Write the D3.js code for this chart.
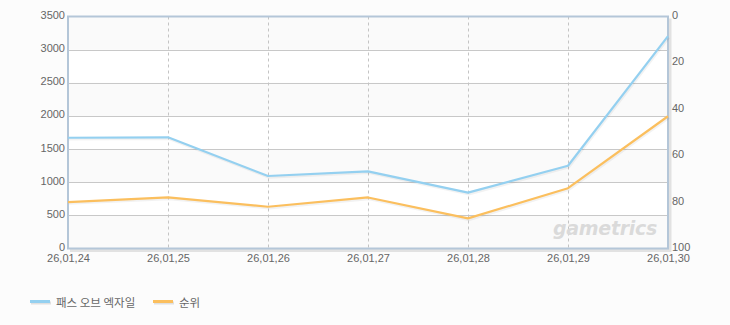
<!DOCTYPE html>
<html>
<head>
<meta charset="utf-8">
<script src="https://cdn.jsdelivr.net/npm/d3@7"></script>
<style>
  html, body { margin: 0; padding: 0; background: #fcfcfc; }
  svg { display: block; }
  .tick text { font-family: "Liberation Sans", Arial, sans-serif; font-size: 11px; fill: #666; }
</style>
</head>
<body>
<svg id="chart" width="730" height="325"></svg>
<script>
/* ---------- data ---------- */
const DATES   = ['26,01,24', '26,01,25', '26,01,26', '26,01,27', '26,01,28', '26,01,29', '26,01,30'];
const PLAYERS = [1671, 1677, 1094, 1164, 842, 1249, 3205];   // 패스 오브 엑자일 (left axis)
const RANKS   = [80, 78, 82, 78, 87, 74, 43];                 // 순위 (right axis, reversed)
const LEFT_TICKS  = [0, 500, 1000, 1500, 2000, 2500, 3000, 3500];
const RIGHT_TICKS = [0, 20, 40, 60, 80, 100];
const SERIES = [
  { name: '패스 오브 엑자일', color: '#94d0f0' },
  { name: '순위',             color: '#fbbf5e' },
];

/* ---------- layout ---------- */
const M = { left: 68, right: 668, top: 16.5, bottom: 248.5 };
const svg = d3.select('#chart');

const x  = d3.scalePoint().domain(DATES).range([M.left, M.right]);
const yL = d3.scaleLinear().domain([0, 3500]).range([M.bottom, M.top]);
const yR = d3.scaleLinear().domain([0, 100]).range([M.top, M.bottom]);

// alternating bands
d3.pairs(LEFT_TICKS).forEach(([a, b], i) => {
  svg.append('rect')
    .attr('x', M.left).attr('y', yL(b))
    .attr('width', M.right - M.left).attr('height', yL(a) - yL(b))
    .attr('fill', i % 2 === 0 ? '#fafafa' : '#ffffff');
});

// horizontal grid
svg.append('g').selectAll('line').data(LEFT_TICKS.slice(1, -1)).join('line')
  .attr('x1', M.left).attr('x2', M.right)
  .attr('y1', d => Math.round(yL(d)) + 0.5).attr('y2', d => Math.round(yL(d)) + 0.5)
  .attr('stroke', '#c8c8c8').attr('stroke-width', 1);

// vertical dashed grid
svg.append('g').selectAll('line').data(DATES.slice(1, -1)).join('line')
  .attr('x1', d => Math.round(x(d)) + 0.5).attr('x2', d => Math.round(x(d)) + 0.5)
  .attr('y1', M.top).attr('y2', M.bottom)
  .attr('stroke', '#c4c4c4').attr('stroke-dasharray', '3,3');

// watermark
svg.append('text')
  .attr('x', 657).attr('y', 235).attr('text-anchor', 'end')
  .attr('font-family', '"DejaVu Sans", sans-serif').attr('font-style', 'italic')
  .attr('font-weight', 'bold').attr('font-size', '19px').attr('letter-spacing', '-0.3')
  .attr('fill', '#dadada').text('gametrics');

// border shadow (right/bottom)
svg.append('path')
  .attr('d', `M${M.left + 2},${M.bottom + 2}H${M.right + 2}V${M.top + 2}`)
  .attr('fill', 'none').attr('stroke', '#e2e2e2').attr('stroke-width', 3);

// plot border
svg.append('rect')
  .attr('x', M.left).attr('y', M.top)
  .attr('width', M.right - M.left).attr('height', M.bottom - M.top)
  .attr('fill', 'none').attr('stroke', '#b4c6d8').attr('stroke-width', 2);

// lines
const lineL = d3.line().x((d, i) => x(DATES[i])).y(d => yL(d));
const lineR = d3.line().x((d, i) => x(DATES[i])).y(d => yR(d));
[[PLAYERS, lineL, SERIES[0]], [RANKS, lineR, SERIES[1]]].forEach(([vals, fn, s]) => {
  svg.append('path').attr('d', fn(vals)).attr('transform', 'translate(1,1.5)')
    .attr('fill', 'none').attr('stroke', 'rgba(0,0,0,0.05)').attr('stroke-width', 2.5);
  svg.append('path').attr('d', fn(vals))
    .attr('fill', 'none').attr('stroke', s.color).attr('stroke-width', 2.2)
    .attr('stroke-linejoin', 'round');
});

// axes
const axL = svg.append('g').attr('transform', `translate(${M.left - 1},-1.5)`)
  .call(d3.axisLeft(yL).tickValues(LEFT_TICKS).tickFormat(d3.format('d')).tickSize(0).tickPadding(2));
const axR = svg.append('g').attr('transform', `translate(${M.right + 2},-1.5)`)
  .call(d3.axisRight(yR).tickValues(RIGHT_TICKS).tickFormat(d3.format('d')).tickSize(0).tickPadding(2));
const axB = svg.append('g').attr('transform', `translate(0,${M.bottom + 6})`)
  .call(d3.axisBottom(x).tickSize(0).tickPadding(0));
[axL, axR, axB].forEach(g => g.select('.domain').remove());

// legend
const lg = svg.append('g').attr('transform', 'translate(30,302)');
SERIES.forEach((s, i) => {
  const g = lg.append('g').attr('transform', `translate(${i === 0 ? 0 : 123},0)`);
  g.append('rect').attr('x', 1).attr('y', -0.5).attr('width', 20).attr('height', 3).attr('fill', '#e0e0e0');
  g.append('rect').attr('x', 0).attr('y', -2).attr('width', 20).attr('height', 3).attr('fill', s.color);
  g.append('text').attr('x', 26).attr('y', 0).attr('dominant-baseline', 'central')
    .attr('font-family', '"Noto Sans CJK KR", sans-serif').attr('font-size', '11.5px')
    .attr('fill', '#666').text(s.name);
});
</script>
</body>
</html>
